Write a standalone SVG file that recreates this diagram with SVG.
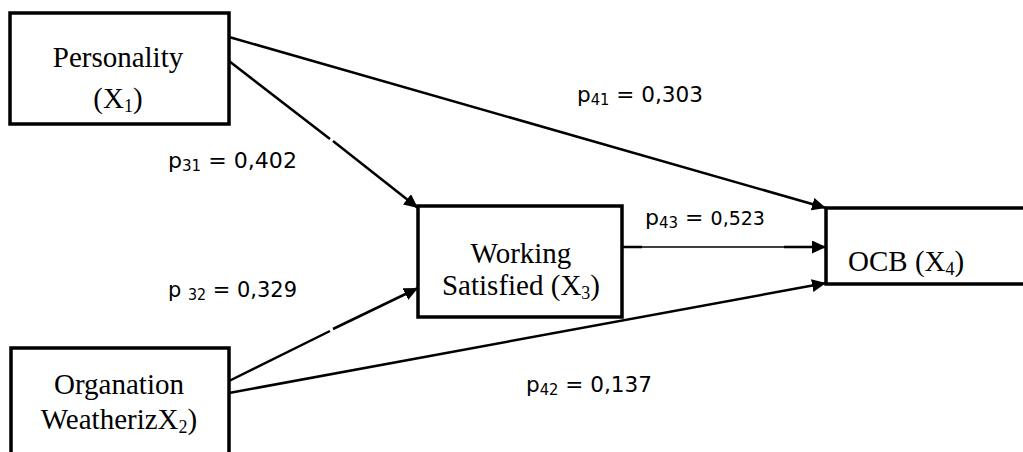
<svg xmlns="http://www.w3.org/2000/svg" width="1023" height="452" viewBox="0 0 1023 452">
<style>
.box{fill:none;stroke:#000;stroke-width:3.5}
.nt{font-family:"Liberation Serif","Times New Roman",serif;font-size:29px;fill:#000;text-anchor:middle}
.sub{font-size:18px}
.lbl{font-family:"DejaVu Sans",Verdana,sans-serif;font-size:22px;fill:#000}
.ls{font-size:15px}
.ln{fill:none;stroke:#000;stroke-width:2.5}
</style>
<defs>
<marker id="ah" markerUnits="userSpaceOnUse" markerWidth="15" markerHeight="13" refX="14" refY="6.5" orient="auto">
<path d="M0,0 L14,6.5 L0,13 z" fill="#000"/>
</marker>
</defs>
<rect width="1023" height="452" fill="#fff"/>
<g id="connectors">
<path class="ln" d="M229,37 L826,208" marker-end="url(#ah)"/>
<path class="ln" d="M229,61 L330,139"/>
<path class="ln" d="M333,141 L418,208" marker-end="url(#ah)"/>
<path class="ln" d="M229,381 L330,331"/>
<path class="ln" d="M333,329 L418,288" marker-end="url(#ah)"/>
<path class="ln" d="M229,393 L826,283" marker-end="url(#ah)"/>
<path class="ln" d="M622,247 L642,247"/>
<path fill="none" stroke="#000" stroke-width="1.3" d="M642,247 L784,247"/>
<path class="ln" d="M784,247 L826,247" marker-end="url(#ah)"/>
</g>
<g id="personality">
<rect class="box" x="10" y="13" width="219" height="111"/>
<text class="nt" x="118" y="67">Personality</text>
<text class="nt" x="118" y="108">(X<tspan class="sub" dy="4">1</tspan><tspan dy="-4">)</tspan></text>
</g>
<g id="organation">
<path class="box" d="M11,460 V348 H229 V460"/>
<text class="nt" x="119" y="394">Organation</text>
<text class="nt" x="119" y="429">WeatherizX<tspan class="sub" dy="4">2</tspan><tspan dy="-4">)</tspan></text>
</g>
<g id="working">
<rect class="box" x="418" y="206" width="204" height="111"/>
<text class="nt" x="521" y="263">Working</text>
<text class="nt" x="521" y="295">Satisfied (X<tspan class="sub" dy="4">3</tspan><tspan dy="-4">)</tspan></text>
</g>
<g id="ocb">
<path class="box" d="M1030,208 H826 V284 H1030"/>
<text class="nt" x="848" y="271" style="text-anchor:start">OCB (X<tspan class="sub" dy="4">4</tspan><tspan dy="-4">)</tspan></text>
</g>
<g id="labels">
<text class="lbl" x="577" y="102" textLength="126" lengthAdjust="spacingAndGlyphs">p<tspan class="ls" dy="3">41</tspan><tspan dy="-3"> = 0,303</tspan></text>
<text class="lbl" x="168" y="168" textLength="129" lengthAdjust="spacingAndGlyphs">p<tspan class="ls" dy="3">31</tspan><tspan dy="-3"> = 0,402</tspan></text>
<text class="lbl" x="168" y="297" textLength="129" lengthAdjust="spacingAndGlyphs">p <tspan class="ls" dy="3">32</tspan><tspan dy="-3"> = 0,329</tspan></text>
<text class="lbl" x="645" y="225" textLength="120" lengthAdjust="spacingAndGlyphs">p<tspan class="ls" dy="3">43</tspan><tspan dy="-3"> = </tspan><tspan style="font-size:19px">0,523</tspan></text>
<text class="lbl" x="526" y="392" textLength="126" lengthAdjust="spacingAndGlyphs">p<tspan class="ls" dy="3">42</tspan><tspan dy="-3"> = 0,137</tspan></text>
</g>
</svg>
